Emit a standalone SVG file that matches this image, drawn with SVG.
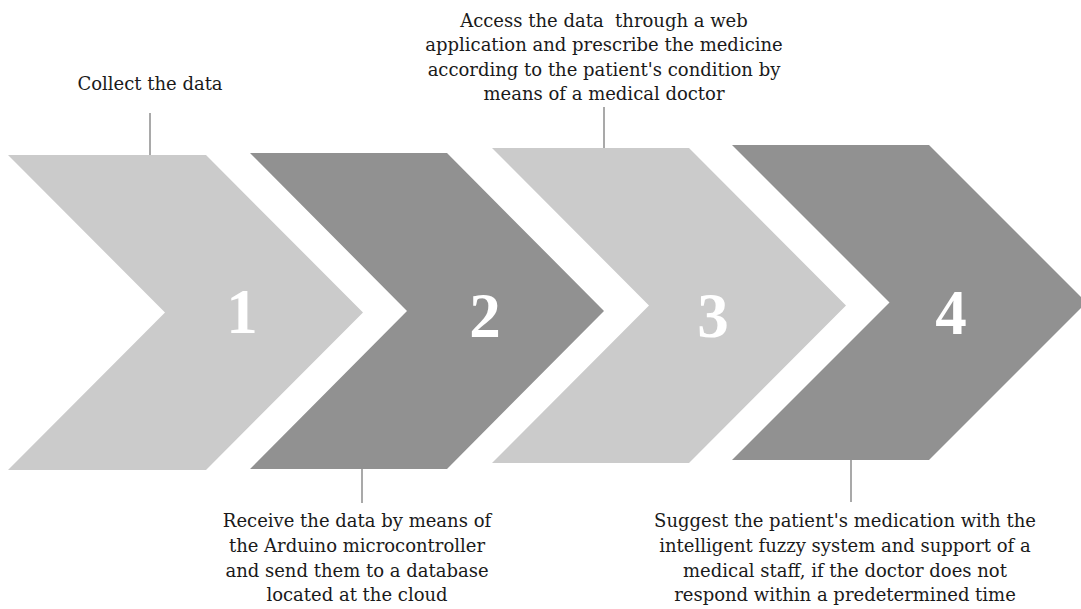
<svg xmlns="http://www.w3.org/2000/svg" width="1081" height="609" viewBox="0 0 1081 609">
  <style>
    .light { fill: #cbcbcb; }
    .dark { fill: #919191; }
    .num { font-family: "Liberation Serif", "DejaVu Serif", serif; font-weight: bold; font-size: 63px; fill: #ffffff; text-anchor: middle; }
    .label { font-family: "DejaVu Serif", "Liberation Serif", serif; font-size: 18px; fill: #1a1a1a; text-anchor: middle; }
    .lead { stroke: #8c8c8c; stroke-width: 1.5; fill: none; }
  </style>
  <rect width="1081" height="609" fill="#ffffff"/>

  <!-- step chevrons -->
  <g id="step1">
    <polygon class="light" points="8,155 206,155 363,312.5 206,470 8,470 165,312.5"/>
    <text class="num" x="242" y="333">1</text>
  </g>
  <g id="step2">
    <polygon class="dark" points="250,153 447,153 604,311 447,469 250,469 407,311"/>
    <text class="num" x="485" y="337">2</text>
  </g>
  <g id="step3">
    <polygon class="light" points="492,148 689,148 846,305.5 689,463 492,463 649,305.5"/>
    <text class="num" x="713" y="337">3</text>
  </g>
  <g id="step4">
    <polygon class="dark" points="732,145 929,145 1086.5,302.5 929,460 732,460 889.5,302.5"/>
    <text class="num" x="951" y="334">4</text>
  </g>

  <!-- leader lines to the captions -->
  <g id="connectors">
    <line class="lead" x1="150" y1="113" x2="150" y2="155"/>
    <line class="lead" x1="362" y1="469" x2="362" y2="503"/>
    <line class="lead" x1="604" y1="107" x2="604" y2="148"/>
    <line class="lead" x1="851" y1="460" x2="851" y2="502"/>
  </g>

  <!-- captions -->
  <g id="caption1">
    <text class="label" x="150" y="90">Collect the data</text>
  </g>
  <g id="caption2">
    <text class="label" x="357" y="527">Receive the data by means of</text>
    <text class="label" x="357" y="552">the Arduino microcontroller</text>
    <text class="label" x="357" y="577">and send them to a database</text>
    <text class="label" x="357" y="601">located at the cloud</text>
  </g>
  <g id="caption3">
    <text class="label" x="604" y="27" xml:space="preserve">Access the data  through a web</text>
    <text class="label" x="604" y="51">application and prescribe the medicine</text>
    <text class="label" x="604" y="76">according to the patient's condition by</text>
    <text class="label" x="604" y="100">means of a medical doctor</text>
  </g>
  <g id="caption4">
    <text class="label" x="845" y="527">Suggest the patient's medication with the</text>
    <text class="label" x="845" y="552">intelligent fuzzy system and support of a</text>
    <text class="label" x="845" y="577">medical staff, if the doctor does not</text>
    <text class="label" x="845" y="601">respond within a predetermined time</text>
  </g>
</svg>
